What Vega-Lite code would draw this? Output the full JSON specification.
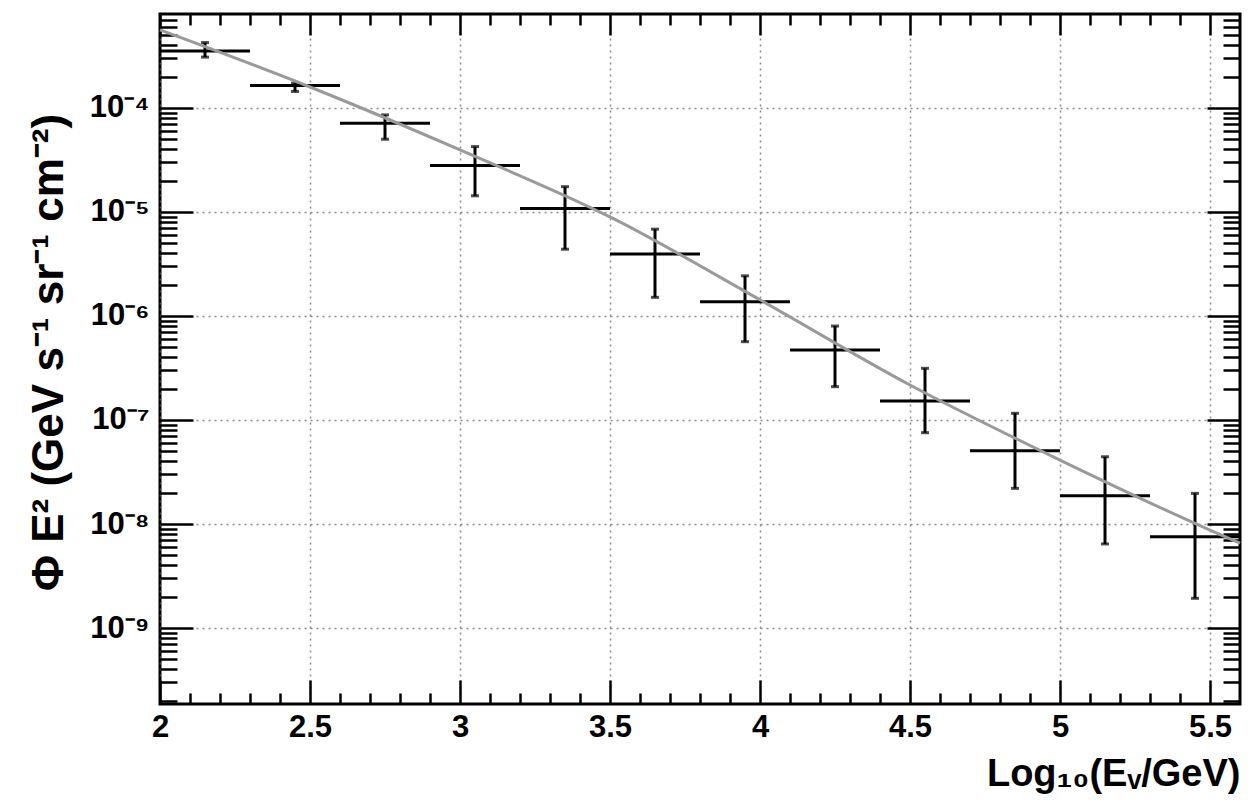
{
  "$schema": "https://vega.github.io/schema/vega-lite/v6.json",
  "width": 1080,
  "height": 690,
  "autosize": "none",
  "padding": {"left": 160, "top": 14, "right": 18, "bottom": 100},
  "background": "white",
  "config": {
    "view": {"stroke": "black", "strokeWidth": 3},
    "axis": {
      "labelFont": "Liberation Sans",
      "labelFontWeight": "bold",
      "labelFontSize": 31,
      "labelColor": "black",
      "titleFont": "Liberation Sans",
      "titleFontWeight": "bold",
      "titleColor": "black",
      "tickColor": "black",
      "tickWidth": 2.5,
      "domain": false,
      "gridColor": "#666666",
      "gridDash": [2, 4],
      "gridWidth": 1.5,
      "gridOpacity": 0.75
    }
  },
  "datasets": {
    "pts": [
      {"e": 2.15, "e_min": 2.0, "e_max": 2.3, "flux": 3.53e-4, "flux_lo": 3.08e-4, "flux_hi": 4.25e-4},
      {"e": 2.45, "e_min": 2.3, "e_max": 2.6, "flux": 1.64e-4, "flux_lo": 1.44e-4, "flux_hi": 1.73e-4},
      {"e": 2.75, "e_min": 2.6, "e_max": 2.9, "flux": 7.13e-5, "flux_lo": 5.0e-5, "flux_hi": 8.57e-5},
      {"e": 3.05, "e_min": 2.9, "e_max": 3.2, "flux": 2.79e-5, "flux_lo": 1.43e-5, "flux_hi": 4.25e-5},
      {"e": 3.35, "e_min": 3.2, "e_max": 3.5, "flux": 1.08e-5, "flux_lo": 4.38e-6, "flux_hi": 1.75e-5},
      {"e": 3.65, "e_min": 3.5, "e_max": 3.8, "flux": 3.95e-6, "flux_lo": 1.51e-6, "flux_hi": 6.83e-6},
      {"e": 3.95, "e_min": 3.8, "e_max": 4.1, "flux": 1.37e-6, "flux_lo": 5.66e-7, "flux_hi": 2.43e-6},
      {"e": 4.25, "e_min": 4.1, "e_max": 4.4, "flux": 4.71e-7, "flux_lo": 2.09e-7, "flux_hi": 8.0e-7},
      {"e": 4.55, "e_min": 4.4, "e_max": 4.7, "flux": 1.52e-7, "flux_lo": 7.55e-8, "flux_hi": 3.14e-7},
      {"e": 4.85, "e_min": 4.7, "e_max": 5.0, "flux": 5.07e-8, "flux_lo": 2.2e-8, "flux_hi": 1.16e-7},
      {"e": 5.15, "e_min": 5.0, "e_max": 5.3, "flux": 1.87e-8, "flux_lo": 6.43e-9, "flux_hi": 4.43e-8},
      {"e": 5.45, "e_min": 5.3, "e_max": 5.6, "flux": 7.55e-9, "flux_lo": 1.93e-9, "flux_hi": 1.97e-8}
    ],
    "fit": [
      {"e": 2.0, "flux": 5.62e-4},
      {"e": 2.5, "flux": 1.59e-4},
      {"e": 3.0, "flux": 3.95e-5},
      {"e": 3.5, "flux": 8.95e-6},
      {"e": 4.0, "flux": 1.43e-6},
      {"e": 4.5, "flux": 2.17e-7},
      {"e": 5.0, "flux": 4.12e-8},
      {"e": 5.5, "flux": 8.75e-9},
      {"e": 5.6, "flux": 6.56e-9}
    ]
  },
  "layer": [
    {
      "data": {"name": "pts"},
      "mark": {"type": "rule", "color": "black", "strokeWidth": 3},
      "encoding": {
        "x": {
          "field": "e_min", "type": "quantitative",
          "scale": {"domain": [2, 5.6], "nice": false, "zero": false},
          "axis": {
            "orient": "bottom",
            "values": [2, 2.5, 3, 3.5, 4, 4.5, 5, 5.5],
            "format": "~g",
            "tickSize": -24,
            "labelPadding": 32,
            "labelFlush": false,
            "grid": true,
            "title": "Log₁₀(Eᵥ/GeV)",
            "titleFontSize": 38,
            "titleAlign": "right",
            "titleAnchor": "end",
            "titleX": 1080,
            "titleY": 81,
            "titleBaseline": "alphabetic"
          }
        },
        "x2": {"field": "e_max"},
        "y": {
          "field": "flux", "type": "quantitative",
          "scale": {"type": "log", "domain": [1.86e-10, 8.0e-4], "nice": false},
          "axis": {
            "orient": "left",
            "values": [1e-9, 1e-8, 1e-7, 1e-6, 1e-5, 1e-4],
            "labelExpr": "'10⁻' + ['⁰','¹','²','³','⁴','⁵','⁶','⁷','⁸','⁹'][-round(log(datum.value)/LN10)]",
            "tickSize": -33,
            "labelPadding": 44,
            "labelFlush": false,
            "grid": true,
            "title": "Φ  E² (GeV s⁻¹ sr⁻¹ cm⁻²)",
            "titleFontSize": 44,
            "titleAngle": -90,
            "titleAlign": "center",
            "titleBaseline": "alphabetic",
            "titleX": -98,
            "titleY": 338
          }
        }
      }
    },
    {
      "data": {"name": "pts"},
      "mark": {"type": "rule", "color": "black", "strokeWidth": 3},
      "encoding": {
        "x": {
          "field": "e", "type": "quantitative",
          "axis": {
            "orient": "bottom",
            "values": [2.1, 2.2, 2.3, 2.4, 2.6, 2.7, 2.8, 2.9, 3.1, 3.2, 3.3, 3.4, 3.6, 3.7, 3.8, 3.9, 4.1, 4.2, 4.3, 4.4, 4.6, 4.7, 4.8, 4.9, 5.1, 5.2, 5.3, 5.4],
            "tickSize": -11,
            "labels": false,
            "grid": false,
            "title": null
          }
        },
        "y": {
          "field": "flux_lo", "type": "quantitative",
          "axis": {
            "orient": "left",
            "values": [2e-10, 3e-10, 4e-10, 5e-10, 6e-10, 7e-10, 8e-10, 9e-10, 2e-9, 3e-9, 4e-9, 5e-9, 6e-9, 7e-9, 8e-9, 9e-9, 2e-8, 3e-8, 4e-8, 5e-8, 6e-8, 7e-8, 8e-8, 9e-8, 2e-7, 3e-7, 4e-7, 5e-7, 6e-7, 7e-7, 8e-7, 9e-7, 2e-6, 3e-6, 4e-6, 5e-6, 6e-6, 7e-6, 8e-6, 9e-6, 2e-5, 3e-5, 4e-5, 5e-5, 6e-5, 7e-5, 8e-5, 9e-5, 2e-4, 3e-4, 4e-4, 5e-4, 6e-4, 7e-4],
            "tickSize": -17,
            "labels": false,
            "grid": false,
            "title": null
          }
        },
        "y2": {"field": "flux_hi"}
      }
    },
    {
      "data": {"name": "pts"},
      "mark": {"type": "tick", "orient": "horizontal", "color": "black", "size": 8, "thickness": 3},
      "encoding": {
        "x": {
          "field": "e", "type": "quantitative",
          "axis": {
            "orient": "top",
            "values": [2, 2.5, 3, 3.5, 4, 4.5, 5, 5.5],
            "tickSize": -21,
            "labels": false,
            "grid": false,
            "title": null
          }
        },
        "y": {
          "field": "flux_lo", "type": "quantitative",
          "axis": {
            "orient": "right",
            "values": [1e-9, 1e-8, 1e-7, 1e-6, 1e-5, 1e-4],
            "tickSize": -33,
            "labels": false,
            "grid": false,
            "title": null
          }
        }
      }
    },
    {
      "data": {"name": "pts"},
      "mark": {"type": "tick", "orient": "horizontal", "color": "black", "size": 8, "thickness": 3},
      "encoding": {
        "x": {
          "field": "e", "type": "quantitative",
          "axis": {
            "orient": "top",
            "values": [2.1, 2.2, 2.3, 2.4, 2.6, 2.7, 2.8, 2.9, 3.1, 3.2, 3.3, 3.4, 3.6, 3.7, 3.8, 3.9, 4.1, 4.2, 4.3, 4.4, 4.6, 4.7, 4.8, 4.9, 5.1, 5.2, 5.3, 5.4],
            "tickSize": -11,
            "labels": false,
            "grid": false,
            "title": null
          }
        },
        "y": {
          "field": "flux_hi", "type": "quantitative",
          "axis": {
            "orient": "right",
            "values": [2e-10, 3e-10, 4e-10, 5e-10, 6e-10, 7e-10, 8e-10, 9e-10, 2e-9, 3e-9, 4e-9, 5e-9, 6e-9, 7e-9, 8e-9, 9e-9, 2e-8, 3e-8, 4e-8, 5e-8, 6e-8, 7e-8, 8e-8, 9e-8, 2e-7, 3e-7, 4e-7, 5e-7, 6e-7, 7e-7, 8e-7, 9e-7, 2e-6, 3e-6, 4e-6, 5e-6, 6e-6, 7e-6, 8e-6, 9e-6, 2e-5, 3e-5, 4e-5, 5e-5, 6e-5, 7e-5, 8e-5, 9e-5, 2e-4, 3e-4, 4e-4, 5e-4, 6e-4, 7e-4],
            "tickSize": -17,
            "labels": false,
            "grid": false,
            "title": null
          }
        }
      }
    },
    {
      "data": {"name": "fit"},
      "mark": {"type": "line", "color": "#9a9a9a", "strokeWidth": 3, "interpolate": "monotone"},
      "encoding": {
        "x": {"field": "e", "type": "quantitative", "axis": null},
        "y": {"field": "flux", "type": "quantitative", "axis": null}
      }
    }
  ],
  "resolve": {"axis": {"x": "independent", "y": "independent"}}
}
